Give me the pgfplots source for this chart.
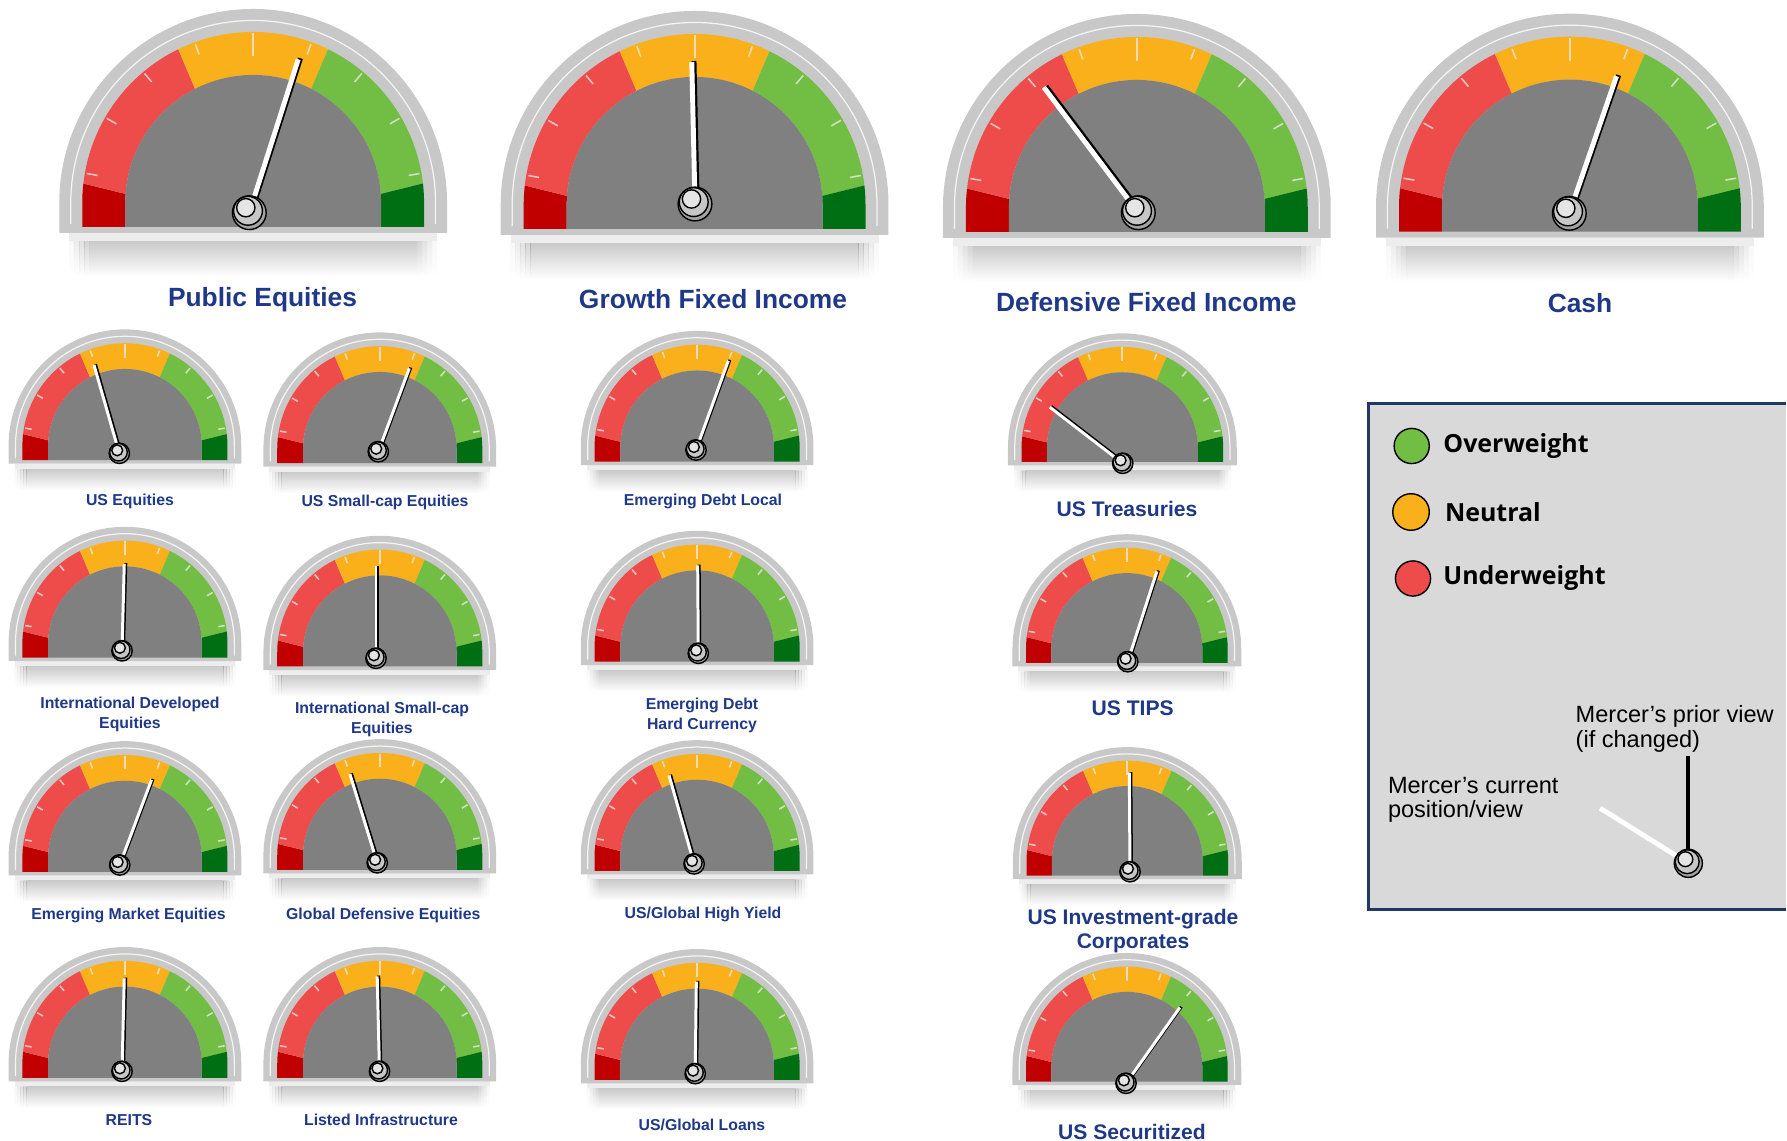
\documentclass[border=0pt]{standalone}
\usepackage{fontspec}
\setmainfont{Liberation Sans}
\newfontfamily\osfont{Open Sans}
\usepackage{pgfplots}
\usepackage{pgfplotstable}
\pgfplotsset{compat=1.18}

\definecolor{rimc}{RGB}{200,200,200}
\definecolor{dred}{RGB}{192,0,0}
\definecolor{gred}{RGB}{238,76,74}
\definecolor{gorange}{RGB}{249,176,27}
\definecolor{ggreen}{RGB}{114,190,68}
\definecolor{dgreen}{RGB}{0,110,18}
\definecolor{innerg}{RGB}{128,128,128}
\definecolor{navy}{RGB}{31,56,135}
\definecolor{legbg}{RGB}{217,217,217}
\definecolor{legborder}{RGB}{31,56,100}

\tikzset{
  biglab/.style={font=\bfseries\fontsize{7.5}{9}\selectfont, text=navy, inner sep=0pt, align=center},
  smalllab/.style={font=\bfseries\fontsize{4.5}{5.7}\selectfont, text=navy, inner sep=0pt, align=center},
  midlab/.style={font=\bfseries\fontsize{6}{6.9}\selectfont, text=navy, inner sep=0pt, align=center},
}

% gauge dial (decoration only): centre x, centre y (pixels from top), scale
\newcommand{\gauge}[3]{%
\begin{scope}[shift={(#1,-#2)}, scale=#3]
 \shade[top color=black!70, bottom color=white, opacity=0.3] (-164,-38) rectangle (164,-74);
 \foreach \k/\o in {0/0.24,1/0.17,2/0.1,3/0.045}{%
   \shade[top color=black!70, bottom color=white, opacity=\o] ({164+5*\k},-38) rectangle ({169+5*\k},-74);
   \shade[top color=black!70, bottom color=white, opacity=\o] ({-164-5*\k},-38) rectangle ({-169-5*\k},-74);}
 \fill[black!7] (-184,-30) rectangle (184,-38);
 \fill[rimc] (-194,-30) -- (-194,0) arc[start angle=180,end angle=0,radius=194] -- (194,-30) -- cycle;
 \draw[white, opacity=.8, line width=0.35pt] (-182.5,-21) -- (-182.5,0) arc[start angle=180,end angle=0,radius=182.5] -- (182.5,-21);
 \fill[dred] (173.5:171) arc[start angle=173.5,end angle=180,radius=171] -- (-171,-24) -- (-128,-24) -- (-128,0) arc[start angle=180,end angle=176,radius=128] -- cycle;
 \fill[gred] (116:171) arc[start angle=116,end angle=173.5,radius=171] -- (176:128) arc[start angle=176,end angle=117,radius=128] -- cycle;
 \fill[gorange] (64:171) arc[start angle=64,end angle=116,radius=171] -- (117:128) arc[start angle=117,end angle=63,radius=128] -- cycle;
 \fill[ggreen] (6.5:171) arc[start angle=6.5,end angle=64,radius=171] -- (63:128) arc[start angle=63,end angle=4,radius=128] -- cycle;
 \fill[dgreen] (171,-24) -- (171,0) arc[start angle=0,end angle=6.5,radius=171] -- (4:128) arc[start angle=4,end angle=0,radius=128] -- (128,-24) -- cycle;
 \foreach \a in {10,30,50,70,110,130,150,170}{\draw[white!85!gray, opacity=.75, line width=0.45pt] (\a:169) -- (\a:158);}
 \draw[white!85!gray, opacity=.75, line width=0.55pt] (90:170) -- (90:147);
 \fill[innerg] (-128,-24) -- (-128,0) arc[start angle=180,end angle=0,radius=128] -- (128,-24) -- cycle;
\end{scope}}

% needle pivots (x, y in pixels from top), needle length L and angle a (degrees)
\pgfplotstableread{
x y L a
249.3 212.7 161 72.3
695.0 204.0 142 91.3
1138.3 212.7 157 127.0
1569.3 213.3 145 71.0
}\bigneedles

\pgfplotstableread{
x y L a
119.3 453.3 92 106.0
122.0 650.8 87 88.5
119.7 865.0 91 69.5
122.0 1071.3 93 88.6
378.3 451.7 89 69.6
376.0 658.3 92 90.0
377.2 862.8 93 107.1
379.5 1071.3 95 91.4
696.0 450.0 95 70.1
698.3 653.3 88 90.4
694.1 863.9 92 105.8
695.2 1073.6 92 89.3
1122.7 463.3 92 142.4
1127.7 661.7 95 72.1
1130.0 871.7 99 90.4
1126.0 1083.3 93 54.6
}\smallneedles

\pgfplotstableread{
x y L a
1688.3 863.3 107 90.0
}\legprior

\pgfplotstableread{
x y L a
1688.3 863.3 104 148.0
}\legcurrent

\begin{document}
\begin{tikzpicture}
\begin{scope}[shift={(0,11.41cm)}, x=0.01cm, y=0.01cm]
 \gauge{253.3}{203}{1}
 \gauge{695}{205}{1}
 \gauge{1137.5}{208}{1}
 \gauge{1570.8}{207.7}{1}
 \gauge{125}{446}{0.6}
 \gauge{125}{643.5}{0.6}
 \gauge{125}{858}{0.6}
 \gauge{125}{1064}{0.6}
 \gauge{380}{449}{0.6}
 \gauge{380}{652.5}{0.6}
 \gauge{380}{856}{0.6}
 \gauge{380}{1064}{0.6}
 \gauge{697.5}{447.5}{0.6}
 \gauge{697.5}{647.5}{0.6}
 \gauge{697.5}{857}{0.6}
 \gauge{697.5}{1066}{0.6}
 \gauge{1123}{448}{0.59}
 \gauge{1127.5}{649}{0.59}
 \gauge{1128}{862}{0.59}
 \gauge{1127.5}{1068}{0.59}
 \fill[legbg] (1369,-404) rectangle (1787,-910);
 \draw[legborder, line width=0.8pt] (1787,-404) -- (1369,-404) -- (1369,-910) -- (1787,-910);
\end{scope}
\begin{axis}[at={(8.935cm,5.705cm)}, anchor=center,
  width=17.87cm, height=11.41cm, scale only axis,
  xmin=0, xmax=1787, ymin=0, ymax=1141, y dir=reverse,
  hide axis, clip=false]
 % needle shadows
 \addplot[black, line width=1.4pt, line cap=butt,
   quiver={u={\thisrow{L}*cos(\thisrow{a})}, v={-\thisrow{L}*sin(\thisrow{a})}}]
   table[x expr=\thisrow{x}+2.2, y expr=\thisrow{y}-1] {\bigneedles};
 \addplot[black, line width=0.85pt, line cap=butt,
   quiver={u={\thisrow{L}*cos(\thisrow{a})}, v={-\thisrow{L}*sin(\thisrow{a})}}]
   table[x expr=\thisrow{x}+1.5, y expr=\thisrow{y}-0.7] {\smallneedles};
 % needles
 \addplot[white, line width=1.4pt, line cap=butt,
   quiver={u={\thisrow{L}*cos(\thisrow{a})}, v={-\thisrow{L}*sin(\thisrow{a})}}]
   table {\bigneedles};
 \addplot[white, line width=0.85pt, line cap=butt,
   quiver={u={\thisrow{L}*cos(\thisrow{a})}, v={-\thisrow{L}*sin(\thisrow{a})}}]
   table {\smallneedles};
 % legend needles
 \addplot[black, line width=1.15pt, line cap=butt,
   quiver={u={\thisrow{L}*cos(\thisrow{a})}, v={-\thisrow{L}*sin(\thisrow{a})}}]
   table {\legprior};
 \addplot[white, line width=1.4pt, line cap=butt,
   quiver={u={\thisrow{L}*cos(\thisrow{a})}, v={-\thisrow{L}*sin(\thisrow{a})}}]
   table {\legcurrent};
 % pivots (shaded by three stacked discs)
 \addplot[only marks, mark=*, mark size=4.8pt, mark options={fill=black!36, draw=none}] table {\bigneedles};
 \addplot[only marks, mark=*, mark size=2.9pt, mark options={fill=black!36, draw=none}] table {\smallneedles};
 \addplot[only marks, mark=*, mark size=4pt, mark options={fill=black!36, draw=none}] table {\legprior};
 \addplot[only marks, mark=*, mark size=4.1pt, mark options={fill=black!22, draw=none}] table[x expr=\thisrow{x}-1.3, y expr=\thisrow{y}-1.9] {\bigneedles};
 \addplot[only marks, mark=*, mark size=2.5pt, mark options={fill=black!22, draw=none}] table[x expr=\thisrow{x}-0.8, y expr=\thisrow{y}-1.1] {\smallneedles};
 \addplot[only marks, mark=*, mark size=3.4pt, mark options={fill=black!22, draw=none}] table[x expr=\thisrow{x}-1.1, y expr=\thisrow{y}-1.6] {\legprior};
 \addplot[only marks, mark=*, mark size=2.6pt, mark options={fill=black!10, draw=none}] table[x expr=\thisrow{x}-3.5, y expr=\thisrow{y}-5] {\bigneedles};
 \addplot[only marks, mark=*, mark size=1.55pt, mark options={fill=black!10, draw=none}] table[x expr=\thisrow{x}-2.1, y expr=\thisrow{y}-3] {\smallneedles};
 \addplot[only marks, mark=*, mark size=2.1pt, mark options={fill=black!10, draw=none}] table[x expr=\thisrow{x}-2.9, y expr=\thisrow{y}-4.1] {\legprior};
 % legend colour dots
 \addplot[only marks, mark=*, mark size=5pt, mark options={fill=ggreen, draw=none}] coordinates {(1411.7,446)};
 \addplot[only marks, mark=*, mark size=5.2pt, mark options={fill=gorange, draw=none}] coordinates {(1411,512)};
 \addplot[only marks, mark=*, mark size=5pt, mark options={fill=gred, draw=none}] coordinates {(1413,578.5)};
 % labels
 \node[biglab] at (axis cs:262.5,300) {Public Equities};
 \node[biglab] at (axis cs:713,299) {Growth Fixed Income};
 \node[biglab] at (axis cs:1146.3,301.7) {Defensive Fixed Income};
 \node[biglab] at (axis cs:1580,302.7) {Cash};
 \node[smalllab] at (axis cs:130,501.7) {US Equities};
 \node[smalllab] at (axis cs:385,502.7) {US Small-cap Equities};
 \node[smalllab] at (axis cs:703,501.7) {Emerging Debt Local};
 \node[midlab] at (axis cs:1127,509.3) {US Treasuries};
 \node[smalllab] at (axis cs:130,714.7) {International Developed\\Equities};
 \node[smalllab] at (axis cs:382,719.7) {International Small-cap\\Equities};
 \node[smalllab] at (axis cs:702,715) {Emerging Debt\\Hard Currency};
 \node[midlab] at (axis cs:1132.7,708) {US TIPS};
 \node[smalllab] at (axis cs:128.5,915) {Emerging Market Equities};
 \node[smalllab] at (axis cs:383.3,915) {Global Defensive Equities};
 \node[smalllab] at (axis cs:703,914) {US/Global High Yield};
 \node[midlab] at (axis cs:1133,931) {US Investment-grade\\Corporates};
 \node[smalllab] at (axis cs:129,1120) {REITS};
 \node[smalllab] at (axis cs:381,1120) {Listed Infrastructure};
 \node[smalllab] at (axis cs:702,1125) {US/Global Loans};
 \node[midlab] at (axis cs:1132,1132) {US Securitized};
 % legend texts
 \node[anchor=west, inner sep=0pt, font=\osfont\bfseries\fontsize{7.1}{8.5}\selectfont] at (axis cs:1442.7,446) {Overweight};
 \node[anchor=west, inner sep=0pt, font=\osfont\bfseries\fontsize{7.1}{8.5}\selectfont] at (axis cs:1444.3,512) {Neutral};
 \node[anchor=west, inner sep=0pt, font=\osfont\bfseries\fontsize{7.1}{8.5}\selectfont] at (axis cs:1442.7,578.5) {Underweight};
 \node[anchor=west, inner sep=0pt, align=left, font=\fontsize{6.7}{7.1}\selectfont] at (axis cs:1575,729.2) {Mercer’s prior view\\(if changed)};
 \node[anchor=west, inner sep=0pt, align=left, font=\fontsize{6.7}{6.65}\selectfont] at (axis cs:1387.3,800) {Mercer’s current\\position/view};
\end{axis}
\pgfresetboundingbox
\path[use as bounding box] (0,0) rectangle (17.87cm,11.41cm);
\end{tikzpicture}
\end{document}
